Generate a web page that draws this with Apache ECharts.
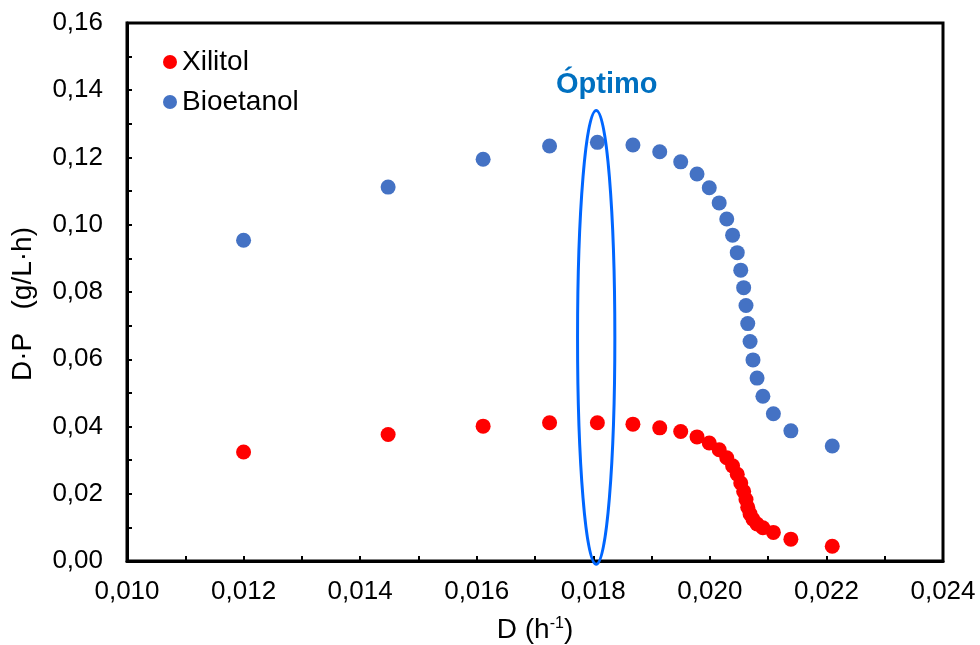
<!DOCTYPE html>
<html>
<head>
<meta charset="utf-8">
<script src="https://cdn.jsdelivr.net/npm/echarts@6/dist/echarts.min.js"></script>
<style>
  html, body { margin: 0; padding: 0; background: #fff; }
  #main { width: 980px; height: 645px; }
</style>
</head>
<body>
<div id="main"></div>
<script>
// dilution rate D (h-1), shared by both series
var dilution = [0.01200, 0.01448, 0.01611, 0.01725, 0.01807, 0.01868, 0.01914, 0.01950,
  0.01978, 0.01999, 0.02016, 0.02029, 0.02039, 0.02047, 0.02053, 0.02058, 0.02062,
  0.02065, 0.02069, 0.02074, 0.02081, 0.02091, 0.02109, 0.02139, 0.02210];
// productividad D·P (g/L·h)
var xilitol = [0.0324, 0.0376, 0.0401, 0.0411, 0.0411, 0.0407, 0.0396, 0.0385,
  0.0369, 0.0351, 0.0331, 0.0307, 0.0283, 0.0258, 0.0232, 0.0207, 0.0183,
  0.0160, 0.0140, 0.0124, 0.0110, 0.0099, 0.0085, 0.0065, 0.0044];
var bioetanol = [0.0954, 0.1112, 0.1195, 0.1234, 0.1245, 0.1237, 0.1217, 0.1187,
  0.1151, 0.1110, 0.1065, 0.1017, 0.0969, 0.0917, 0.0865, 0.0813, 0.0760,
  0.0706, 0.0653, 0.0598, 0.0544, 0.0490, 0.0438, 0.0387, 0.0342];
var seriesNames = ['Xilitol', 'Bioetanol'];
var optimoD = 0.01805;

function pairs(ys) {
  return ys.map(function (y, i) { return [dilution[i], y]; });
}
function comma(v, d) {
  return v.toFixed(d).replace('.', ',');
}

var FONT = 'Liberation Sans, Arial, sans-serif';
var chart = echarts.init(document.getElementById('main'));

var option = {
  animation: false,
  backgroundColor: '#fff',
  textStyle: { fontFamily: FONT },
  grid: {
    left: 127, top: 23, right: 37, bottom: 84,
    containLabel: false,
    outerBoundsMode: 'none',
    show: true, borderColor: '#000', borderWidth: 3
  },
  legend: {
    left: 158, top: 43,
    orient: 'vertical',
    icon: 'circle',
    itemWidth: 14, itemHeight: 14,
    itemGap: 12,
    textStyle: { fontSize: 28, color: '#000', fontFamily: FONT },
    data: seriesNames
  },
  xAxis: {
    type: 'value',
    min: 0.010, max: 0.024, interval: 0.002,
    name: '{a|D (h}{s|-1}{a|)}',
    nameLocation: 'middle',
    nameGap: 55,
    nameTextStyle: {
      rich: {
        a: { fontSize: 28, color: '#000', fontFamily: FONT },
        s: { fontSize: 16, color: '#000', fontFamily: FONT, verticalAlign: 'top', padding: [0, 0, 8, 0] }
      }
    },
    axisLine: { lineStyle: { color: '#000', width: 3 } },
    axisTick: { inside: true, length: 5, lineStyle: { color: '#000', width: 2 } },
    minorTick: { show: true, splitNumber: 2, length: 5, lineStyle: { color: '#000', width: 2 } },
    axisLabel: {
      fontSize: 26, color: '#000', margin: 18,
      formatter: function (v) { return comma(v, 3); }
    },
    splitLine: { show: false }
  },
  yAxis: {
    type: 'value',
    min: 0, max: 0.16, interval: 0.02,
    name: 'D·P   (g/L·h)',
    nameLocation: 'middle',
    nameGap: 90,
    nameTextStyle: { fontSize: 28, color: '#000', fontFamily: FONT, padding: [0, 24, 0, 0] },
    axisLine: { lineStyle: { color: '#000', width: 3 } },
    axisTick: { inside: true, length: 5, lineStyle: { color: '#000', width: 2 } },
    minorTick: { show: true, splitNumber: 2, length: 5, lineStyle: { color: '#000', width: 2 } },
    axisLabel: {
      fontSize: 26, color: '#000', margin: 24,
      formatter: function (v) { return comma(v, 2); }
    },
    splitLine: { show: false }
  },
  series: [
    {
      name: seriesNames[0],
      type: 'scatter',
      symbolSize: 15,
      itemStyle: { color: '#ff0000', opacity: 1 },
      data: pairs(xilitol),
      z: 3
    },
    {
      name: seriesNames[1],
      type: 'scatter',
      symbolSize: 15,
      itemStyle: { color: '#4472c4', opacity: 1 },
      data: pairs(bioetanol),
      z: 3
    }
  ]
};
chart.setOption(option);

// ellipse + label marking the optimum, placed through the axes
var ellTop = chart.convertToPixel({ gridIndex: 0 }, [optimoD, 0.1340]);
var ellBot = chart.convertToPixel({ gridIndex: 0 }, [optimoD, -0.0010]);
var ellSide = chart.convertToPixel({ gridIndex: 0 }, [optimoD + 0.00032, 0]);
var txtPos = chart.convertToPixel({ gridIndex: 0 }, [0.01823, 0.1415]);
chart.setOption({
  graphic: [
    {
      type: 'ellipse',
      shape: {
        cx: ellTop[0], cy: (ellTop[1] + ellBot[1]) / 2,
        rx: ellSide[0] - ellTop[0], ry: (ellBot[1] - ellTop[1]) / 2
      },
      style: { fill: 'none', stroke: '#0066ff', lineWidth: 3 },
      z: 10
    },
    {
      type: 'text',
      x: txtPos[0], y: txtPos[1],
      style: {
        text: 'Óptimo', fill: '#0070c0',
        font: 'bold 29px ' + FONT,
        align: 'center', verticalAlign: 'middle'
      },
      z: 10
    }
  ]
});
</script>
</body>
</html>
